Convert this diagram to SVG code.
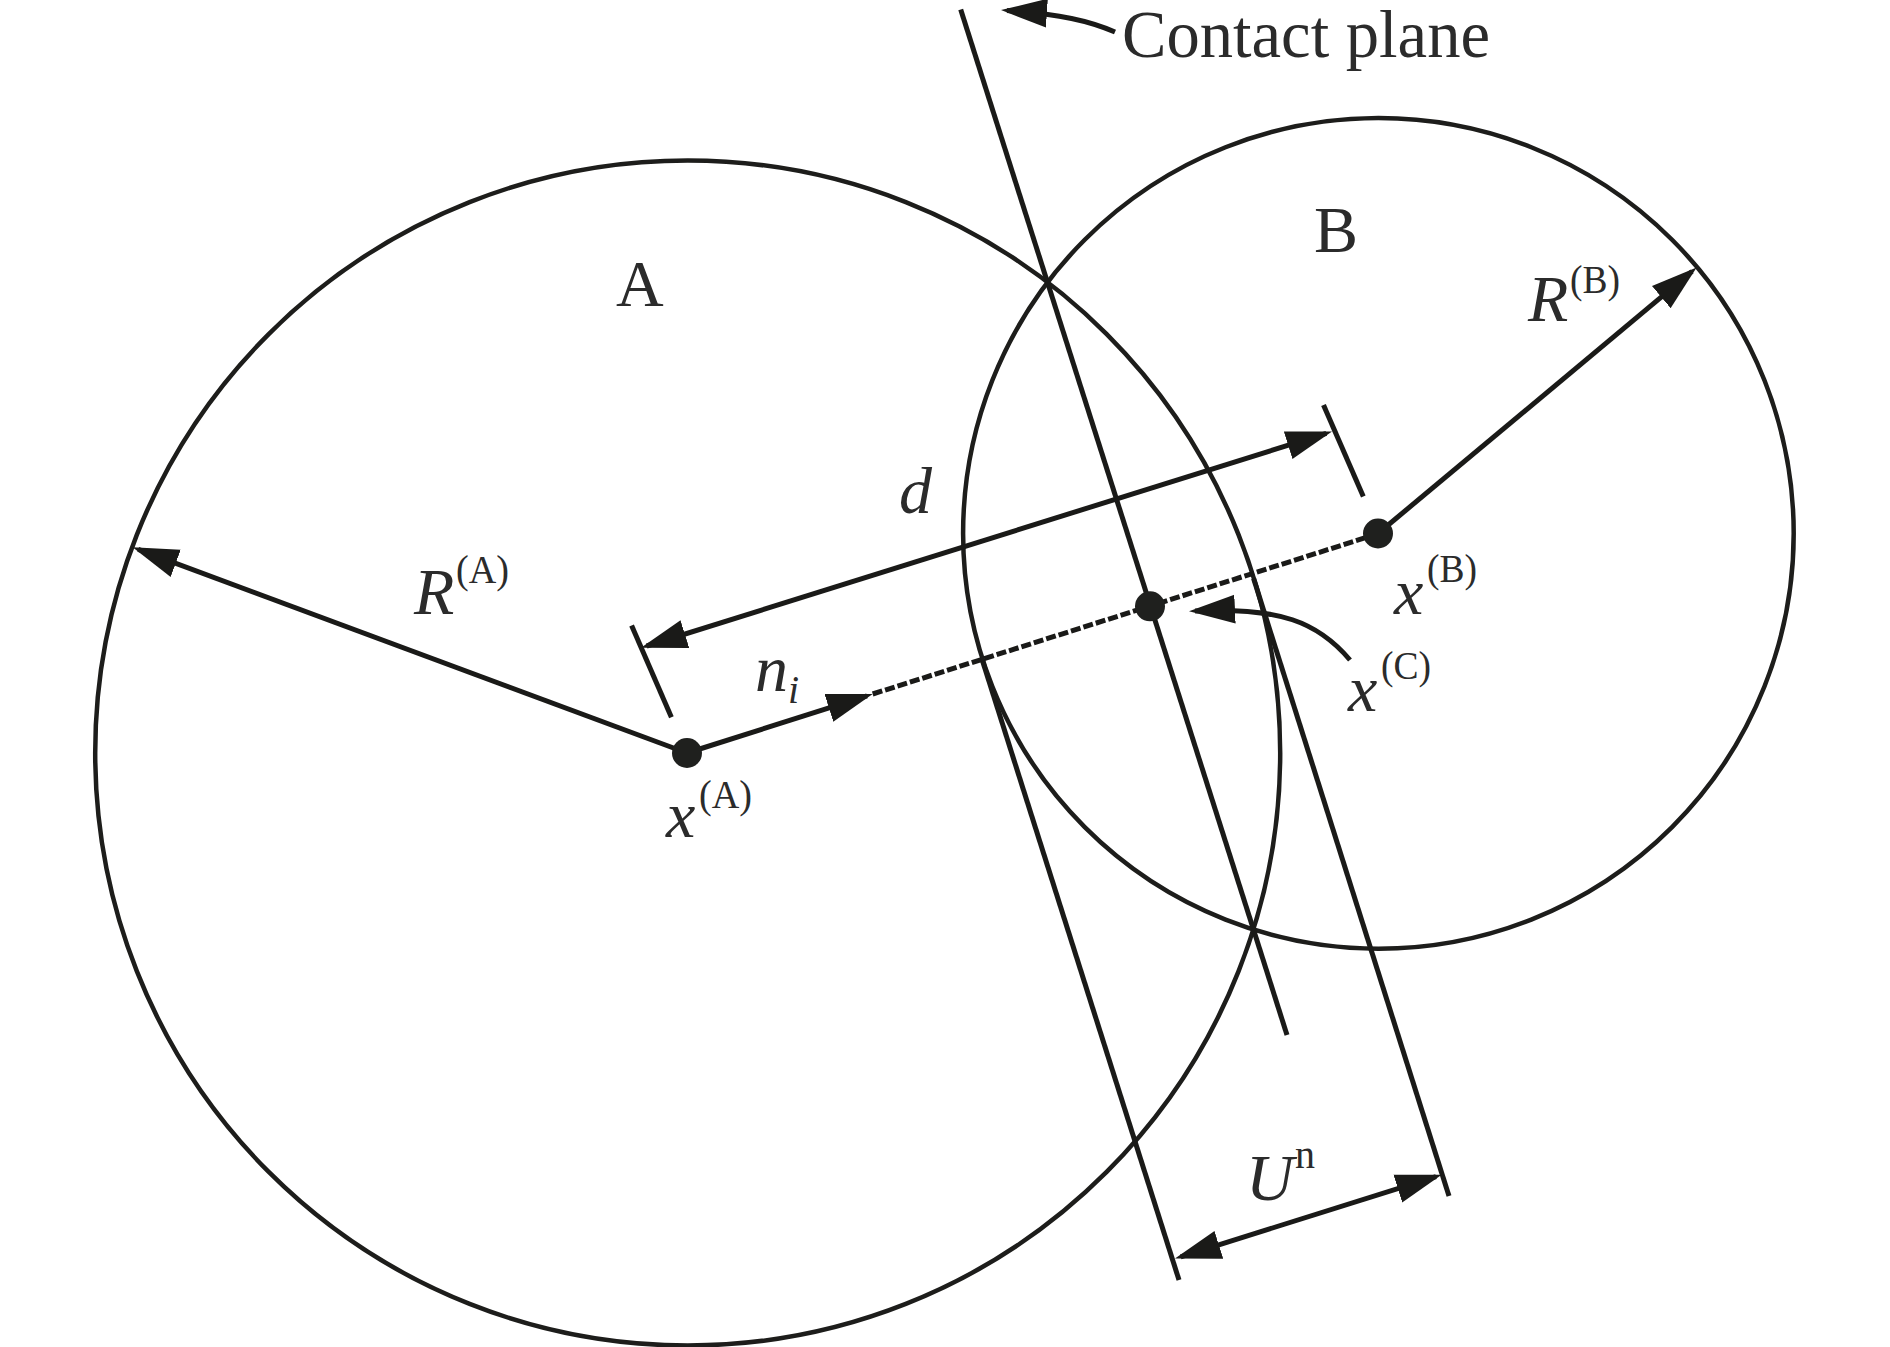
<svg xmlns="http://www.w3.org/2000/svg" width="1890" height="1347" viewBox="0 0 1890 1347">
<style>
.c{fill:none;stroke:#1d1d1b;stroke-width:4.5}
.l{fill:none;stroke:#1a1a18;stroke-width:5}
.d{stroke-dasharray:10 3}
.a{marker-end:url(#h)}
.b{marker-start:url(#h);marker-end:url(#h)}
.p{fill:#1f201e}
text{font-family:"Liberation Serif","Times New Roman",serif;fill:#2b2b2b;font-size:66px}
.i{font-style:italic}
.s{font-size:40px}
</style>
<defs>
<marker id="h" markerUnits="userSpaceOnUse" markerWidth="48" markerHeight="32" refX="40" refY="15" orient="auto-start-reverse">
<path d="M0,0.5 L46,15 L0,29.5 Z" fill="#1a1a18"/>
</marker>
</defs>
<rect width="1890" height="1347" fill="#fff"/>
<g id="sphere-A">
<circle class="c" cx="687.7" cy="753" r="592.5"/>
<text x="616" y="306">A</text>
</g>
<g id="sphere-B">
<circle class="c" cx="1378.4" cy="533.4" r="415.3"/>
<text x="1314" y="252">B</text>
</g>
<g id="connectors">
<line class="l" x1="960.7" y1="9.6" x2="1287" y2="1035"/>
<line class="l" x1="982.4" y1="660.6" x2="1179" y2="1280"/>
<line class="l" x1="1253.6" y1="578.6" x2="1449" y2="1196"/>
<line class="l" x1="631.6" y1="625.6" x2="671.4" y2="717.2"/>
<line class="l" x1="1323.5" y1="405" x2="1363.3" y2="496.6"/>
<line class="l b" x1="646.7" y1="646" x2="1326.3" y2="433.3"/>
<line class="l a" x1="687" y1="753" x2="138.2" y2="549.4"/>
<line class="l a" x1="687" y1="753" x2="867" y2="695.8"/>
<line class="l d" x1="872.7" y1="694" x2="1377.8" y2="533.8"/>
<line class="l a" x1="1378" y1="533.5" x2="1692" y2="271.4"/>
<line class="l b" x1="1180.7" y1="1256.8" x2="1436" y2="1176.6"/>
<path class="l a" d="M1350,660 C1318,622 1280,607 1195,611"/>
<path class="l a" d="M1115,32 C1090,21 1060,14 1007,10.5"/>
</g>
<g id="point-A"><circle class="p" cx="687" cy="753" r="15"/>
<text class="i" x="666" y="837">x</text><text class="s" x="699" y="808" textLength="53" lengthAdjust="spacingAndGlyphs">(A)</text></g>
<g id="point-B"><circle class="p" cx="1378" cy="533.5" r="15"/>
<text class="i" x="1394" y="614">x</text><text class="s" x="1427" y="582" textLength="50" lengthAdjust="spacingAndGlyphs">(B)</text></g>
<g id="point-C"><circle class="p" cx="1150" cy="606.3" r="15"/>
<text class="i" x="1348" y="711">x</text><text class="s" x="1381" y="679" textLength="50" lengthAdjust="spacingAndGlyphs">(C)</text></g>
<g id="labels">
<text x="1122" y="57" font-size="66.6" style="font-size:66.6px">Contact plane</text>
<text class="i" x="414" y="614">R</text><text class="s" x="456" y="583" textLength="53" lengthAdjust="spacingAndGlyphs">(A)</text>
<text class="i" x="1528" y="321">R</text><text class="s" x="1570" y="293" textLength="50" lengthAdjust="spacingAndGlyphs">(B)</text>
<text class="i" x="899" y="513">d</text>
<text class="i" x="755" y="691">n</text><text class="i s" x="788" y="703">i</text>
<text class="i" x="1246" y="1200">U</text><text class="s" x="1295" y="1168">n</text>
</g>
</svg>
